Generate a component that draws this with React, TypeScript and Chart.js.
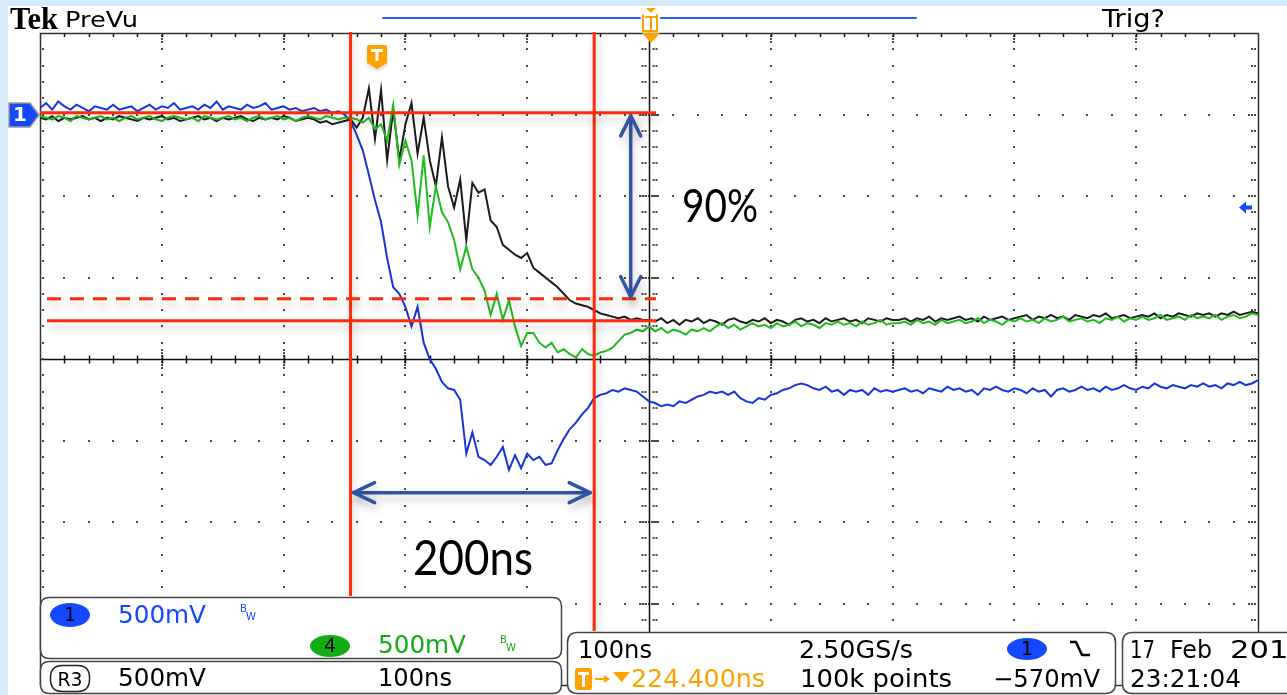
import React, { useEffect, useRef } from "react";
import { Chart, registerables } from "chart.js";

Chart.register(...registerables);

// Acquisition: 100 ns/div, 10 divisions, one sample read every 5 ns
const SAMPLE_START_NS = -500;
const SAMPLE_STEP_NS = 5;

// Channel 1 (mV, relative to ch1 ground marker)
const ch1Blue: number[] = [
  40, 70, 30, 80, 50, 30, 60, 40, 20, 50,
  40, 30, 60, 30, 40, 50, 20, 40, 60, 30,
  50, 40, 70, 30, 40, 50, 30, 60, 40, 80,
  30, 50, 40, 30, 60, 40, 50, 70, 30, 40,
  50, 30, 40, 20, 30, 40, 20, 30, 10, 20,
  0,
  -40, -125, -220, -370, -525, -660, -880, -1060, -1100, -1180,
  -1300, -1180, -1400, -1500, -1560, -1640, -1680, -1690, -1750, -2080,
  -1950, -2100, -2120, -2150, -2100, -2040, -2180, -2090, -2170, -2080,
  -2120, -2100, -2150, -2140, -2060, -1990, -1930, -1890, -1840, -1800,
  -1740, -1720, -1710, -1690, -1700, -1680, -1690, -1700, -1730, -1760,
  -1770, -1790, -1780, -1790, -1760, -1770, -1750, -1730, -1720, -1700,
  -1710, -1700, -1720, -1700, -1740, -1760, -1770, -1740, -1750, -1720,
  -1710, -1690, -1680, -1660, -1650, -1660, -1680, -1690, -1670, -1700,
  -1690, -1720, -1690, -1700, -1690, -1720, -1680, -1700, -1690, -1700,
  -1690, -1680, -1700, -1690, -1710, -1680, -1690, -1700, -1670, -1690,
  -1680, -1700, -1690, -1720, -1680, -1690, -1670, -1690, -1700, -1680,
  -1690, -1710, -1680, -1700, -1690, -1730, -1690, -1680, -1700, -1690,
  -1670, -1690, -1680, -1700, -1670, -1690, -1680, -1660, -1680, -1690,
  -1670, -1680, -1650, -1670, -1680, -1660, -1670, -1680, -1660, -1670,
  -1650, -1670, -1660, -1680, -1650, -1660, -1640, -1660, -1650, -1630,
];

// Channel 4 (mV)
const ch4Green: number[] = [
  -10, -20, -30, -10, -20, -40, -10, -20, -30, -20,
  -10, -30, -20, -40, -20, -10, -30, -20, -10, -30,
  -40, -20, -10, -20, -30, -20, -40, -10, -20, -30,
  -20, -10, -30, -20, -40, -20, -10, -30, -20, -10,
  -30, -20, -40, -20, -10, -20, -30, -10, -20, -30,
  -20,
  -20, -30, -50, -20, -90, -60, -160, 60, -310, -160,
  -280, -620, -250, -690, -440, -600, -660, -770, -950, -810,
  -950, -1000, -1080, -1230, -1100, -1260, -1140, -1300, -1420, -1340,
  -1340, -1400, -1430, -1400, -1460, -1440, -1470, -1490, -1440, -1470,
  -1480, -1460, -1450, -1430, -1390, -1350, -1340, -1320, -1330, -1300,
  -1330, -1310, -1340, -1320, -1330, -1350, -1320, -1330, -1310, -1330,
  -1300, -1280, -1310, -1290, -1320, -1300, -1280, -1300, -1290, -1310,
  -1280, -1300, -1290, -1270, -1300, -1280, -1290, -1310, -1280, -1290,
  -1270, -1290, -1280, -1300, -1270, -1290, -1280, -1260, -1290, -1280,
  -1280, -1270, -1290, -1260, -1280, -1270, -1290, -1260, -1280, -1270,
  -1260, -1280, -1270, -1250, -1280, -1260, -1270, -1290, -1260, -1270,
  -1250, -1270, -1260, -1280, -1250, -1270, -1260, -1240, -1270, -1260,
  -1250, -1270, -1260, -1280, -1250, -1260, -1240, -1270, -1250, -1260,
  -1240, -1260, -1250, -1230, -1260, -1250, -1240, -1260, -1230, -1250,
  -1240, -1250, -1230, -1260, -1240, -1230, -1250, -1240, -1220, -1230,
];

// Reference R3 (mV)
const ref3Black: number[] = [
  -20, -30, -10, -40, -20, -30, -20, -10, -30, -20,
  -40, -20, -30, -10, -20, -30, -40, -20, -30, -20,
  -10, -30, -20, -40, -30, -20, -10, -30, -20, -40,
  -20, -30, -20, -10, -30, -40, -20, -30, -20, -30,
  -10, -20, -40, -30, -20, -30, -50, -40, -60, -50,
  -40,
  -30, -80, -20, 160, -150, 150, -280, 30, -280, -60,
  70, -240, -20, -280, -440, -140, -440, -570, -400, -770,
  -420, -480, -460, -650, -690, -800, -830, -860, -880, -850,
  -940, -970, -1000, -1030, -1060, -1100, -1140, -1160, -1170, -1180,
  -1200, -1220, -1230, -1240, -1250, -1240, -1260, -1250, -1260, -1260,
  -1270, -1250, -1280, -1260, -1290, -1260, -1270, -1250, -1280, -1260,
  -1270, -1290, -1260, -1250, -1270, -1280, -1260, -1270, -1250, -1280,
  -1260, -1270, -1290, -1260, -1250, -1270, -1260, -1280, -1250, -1270,
  -1260, -1250, -1270, -1260, -1280, -1250, -1260, -1270, -1250, -1260,
  -1260, -1250, -1270, -1250, -1260, -1240, -1270, -1250, -1260, -1250,
  -1240, -1260, -1250, -1270, -1240, -1260, -1250, -1240, -1260, -1250,
  -1240, -1230, -1260, -1240, -1250, -1230, -1250, -1240, -1260, -1230,
  -1240, -1250, -1230, -1240, -1220, -1250, -1240, -1230, -1250, -1240,
  -1230, -1240, -1220, -1250, -1230, -1240, -1220, -1230, -1240, -1220,
  -1230, -1220, -1240, -1220, -1230, -1210, -1230, -1220, -1210, -1220,
];

const sampleTimes: number[] = ch1Blue.map((_, i) => SAMPLE_START_NS + i * SAMPLE_STEP_NS);

// Screen scales
const X_MIN = -500, X_MAX = 500, X_MAJOR = 100, X_MINOR = 20;
const Y_MIN = -3500, Y_MAX = 500, Y_MAJOR = 500, Y_MINOR = 100;
const X_CENTER = 0, Y_CENTER = -1500;

// Annotations (data units)
const CURSORS_NS = [-245, -45];
const LEVEL_100 = 10;
const LEVEL_0 = -1265;
const LEVEL_90 = -1130;
const SPAN_ARROW_MV = -2320;
const RISE_ARROW_NS = -15;
const TRIGGER_LEVEL_MV = -570;

const W = 1287, H = 695;
const RED = "#ff2a0a";
const ARROW_BLUE = "#3354a6";
const ORANGE = "#ffa200";
const SCOPE_BLUE = "#1448ff";
const SCOPE_GREEN = "#12ad12";
const UI_FONT = '"DejaVu Sans", "Liberation Sans", sans-serif';

type Ctx = CanvasRenderingContext2D;

function line(ctx: Ctx, x1: number, y1: number, x2: number, y2: number) {
  ctx.beginPath();
  ctx.moveTo(x1, y1);
  ctx.lineTo(x2, y2);
  ctx.stroke();
}

function rrect(ctx: Ctx, x: number, y: number, w: number, h: number, r: number) {
  ctx.beginPath();
  ctx.moveTo(x + r, y);
  ctx.lineTo(x + w - r, y);
  ctx.quadraticCurveTo(x + w, y, x + w, y + r);
  ctx.lineTo(x + w, y + h - r);
  ctx.quadraticCurveTo(x + w, y + h, x + w - r, y + h);
  ctx.lineTo(x + r, y + h);
  ctx.quadraticCurveTo(x, y + h, x, y + h - r);
  ctx.lineTo(x, y + r);
  ctx.quadraticCurveTo(x, y, x + r, y);
  ctx.closePath();
}

function txt(
  ctx: Ctx, s: string, x: number, y: number, size: number, color: string,
  width?: number, weight = "normal", family = UI_FONT, align: CanvasTextAlign = "left"
) {
  ctx.font = `${weight} ${size}px ${family}`;
  ctx.fillStyle = color;
  ctx.textBaseline = "alphabetic";
  ctx.textAlign = align;
  if (!width) {
    ctx.fillText(s, x, y);
    return;
  }
  const m = ctx.measureText(s).width;
  ctx.save();
  ctx.translate(x, y);
  ctx.scale(width / m, 1);
  ctx.fillText(s, 0, 0);
  ctx.restore();
}

function badge(ctx: Ctx, cx: number, cy: number, rx: number, ry: number, fill: string, label: string) {
  ctx.beginPath();
  ctx.ellipse(cx, cy, rx, ry, 0, 0, Math.PI * 2);
  ctx.fillStyle = fill;
  ctx.fill();
  ctx.font = `normal 19px ${UI_FONT}`;
  ctx.fillStyle = "#000";
  ctx.textAlign = "center";
  ctx.textBaseline = "middle";
  ctx.fillText(label, cx, cy + 1);
}

function doubleArrow(ctx: Ctx, x1: number, y1: number, x2: number, y2: number, len: number, spread: number) {
  line(ctx, x1, y1, x2, y2);
  const dx = x2 - x1, dy = y2 - y1;
  const d = Math.hypot(dx, dy);
  const ux = dx / d, uy = dy / d;
  const nx = -uy, ny = ux;
  const head = (tx: number, ty: number, sx: number) => {
    ctx.beginPath();
    ctx.moveTo(tx + sx * ux * len + nx * spread, ty + sx * uy * len + ny * spread);
    ctx.lineTo(tx, ty);
    ctx.lineTo(tx + sx * ux * len - nx * spread, ty + sx * uy * len - ny * spread);
    ctx.stroke();
  };
  head(x1, y1, 1);
  head(x2, y2, -1);
}

const backgroundPlugin = {
  id: "scopeBackground",
  beforeDraw(chart: any) {
    const ctx: Ctx = chart.ctx;
    ctx.save();
    ctx.fillStyle = "#ffffff";
    ctx.fillRect(0, 0, W, H);
    ctx.fillStyle = "#d6ebfa";
    ctx.fillRect(0, 0, 8, H);
    ctx.fillRect(0, 0, W, 6);
    ctx.restore();
  },
};

const graticulePlugin = {
  id: "graticule",
  beforeDatasetsDraw(chart: any) {
    const ctx: Ctx = chart.ctx;
    const a = chart.chartArea;
    const xs = chart.scales.x, ys = chart.scales.y;
    const px = (t: number) => Math.round(xs.getPixelForValue(t));
    const py = (v: number) => Math.round(ys.getPixelForValue(v));
    ctx.save();
    ctx.fillStyle = "#4a4a4a";
    const dot = (x: number, y: number) => ctx.fillRect(x - 1, y - 1, 2, 2);

    for (let t = X_MIN + X_MAJOR; t < X_MAX; t += X_MAJOR) {
      if (t === X_CENTER) continue;
      for (let v = Y_MIN + Y_MINOR; v < Y_MAX; v += Y_MINOR) dot(px(t), py(v));
      for (const k of [3, 6, 9]) {
        dot(px(t), a.top + k);
        dot(px(t), py(Y_CENTER) - k);
        dot(px(t), py(Y_CENTER) + k);
      }
    }
    for (let v = Y_MIN + Y_MAJOR; v < Y_MAX; v += Y_MAJOR) {
      if (v === Y_CENTER) continue;
      for (let t = X_MIN + X_MINOR; t < X_MAX; t += X_MINOR) dot(px(t), py(v));
      for (const k of [3, 6, 9]) {
        dot(a.right - k, py(v));
        dot(px(X_CENTER) - k, py(v));
        dot(px(X_CENTER) + k, py(v));
      }
    }

    ctx.strokeStyle = "#111";
    ctx.lineWidth = 1.5;
    const cx = px(X_CENTER) + 0.5, cy = py(Y_CENTER) + 0.5;
    line(ctx, a.left, cy, a.right, cy);
    line(ctx, cx, a.top, cx, a.bottom);
    for (let t = X_MIN + X_MINOR; t < X_MAX; t += X_MINOR) {
      line(ctx, px(t) + 0.5, cy - 4, px(t) + 0.5, cy + 4);
      line(ctx, px(t) + 0.5, a.top, px(t) + 0.5, a.top + 4);
    }
    for (let v = Y_MIN + Y_MINOR; v < Y_MAX; v += Y_MINOR) {
      for (const k of [-7, -4, 4, 7]) dot(cx + k, py(v));
      dot(a.right - 3, py(v));
      dot(a.right - 6, py(v));
      dot(a.left + 3, py(v));
    }

    ctx.strokeStyle = "#333";
    ctx.lineWidth = 1.5;
    ctx.strokeRect(a.left + 0.5, a.top + 0.5, a.right - a.left, a.bottom - a.top);
    ctx.restore();
  },
};

const overlayPlugin = {
  id: "scopeOverlay",
  afterDraw(chart: any) {
    const ctx: Ctx = chart.ctx;
    const xs = chart.scales.x, ys = chart.scales.y;
    const px = (t: number) => xs.getPixelForValue(t);
    const py = (v: number) => ys.getPixelForValue(v);
    ctx.save();

    // red cursors with soft drop shadow
    ctx.shadowColor = "rgba(0,0,0,0.22)";
    ctx.shadowBlur = 9;
    ctx.shadowOffsetX = 2;
    ctx.shadowOffsetY = 6;
    ctx.strokeStyle = RED;
    ctx.lineWidth = 3;
    const c1 = px(CURSORS_NS[0]), c2 = px(CURSORS_NS[1]);
    line(ctx, c1, 32, c1, 596);
    line(ctx, c2, 32, c2, 631);
    const right = 656;
    line(ctx, 40, py(LEVEL_100), right, py(LEVEL_100));
    line(ctx, 47, py(LEVEL_0), right, py(LEVEL_0));
    ctx.setLineDash([14, 9]);
    line(ctx, 47, py(LEVEL_90), right, py(LEVEL_90));
    ctx.setLineDash([]);

    // blue measurement arrows
    ctx.strokeStyle = ARROW_BLUE;
    ctx.lineWidth = 3.5;
    ctx.lineCap = "round";
    ctx.lineJoin = "round";
    const ax = px(RISE_ARROW_NS);
    doubleArrow(ctx, ax, py(LEVEL_100) + 3, ax, py(LEVEL_90) - 2, 20, 10);
    const ay = py(SPAN_ARROW_MV);
    doubleArrow(ctx, c1 + 3, ay, c2 - 4, ay, 21, 10);
    ctx.shadowColor = "rgba(0,0,0,0)";
    ctx.shadowBlur = 0;
    ctx.shadowOffsetX = 0;
    ctx.shadowOffsetY = 0;

    // annotation labels
    txt(ctx, "90%", 682, 222, 46, "#000", 76, "normal", "Lato, 'Open Sans', sans-serif");
    txt(ctx, "200ns", 413, 575, 48, "#000", 120, "normal", "Lato, 'Open Sans', sans-serif");

    // top status bar
    txt(ctx, "Tek", 10, 29, 32, "#000", 48, "bold", '"Liberation Serif", serif');
    txt(ctx, "PreVu", 65, 27, 21, "#000", 73);
    txt(ctx, "Trig?", 1102, 27, 24, "#000", 63);
    ctx.strokeStyle = "#2860f0";
    ctx.lineWidth = 2;
    line(ctx, 383, 18, 640, 18);
    line(ctx, 661, 18, 916, 18);
    ctx.fillStyle = ORANGE;
    ctx.beginPath();
    ctx.moveTo(646, 8); ctx.lineTo(656, 8); ctx.lineTo(651, 13); ctx.closePath(); ctx.fill();
    ctx.strokeStyle = ORANGE;
    ctx.lineWidth = 2;
    ctx.beginPath();
    ctx.moveTo(643, 15); ctx.lineTo(643, 31); ctx.lineTo(657, 31); ctx.lineTo(657, 15);
    ctx.stroke();
    line(ctx, 646, 17, 656, 17);
    line(ctx, 651, 17, 651, 29);
    ctx.beginPath();
    ctx.moveTo(642, 33); ctx.lineTo(660, 33); ctx.lineTo(651, 43); ctx.closePath(); ctx.fill();

    // trigger "T" marker above the left cursor
    ctx.shadowColor = "rgba(0,0,0,0.18)";
    ctx.shadowBlur = 4;
    ctx.shadowOffsetY = 2;
    ctx.fillStyle = ORANGE;
    ctx.beginPath();
    ctx.moveTo(369, 45); ctx.lineTo(385, 45);
    ctx.quadraticCurveTo(387, 45, 387, 47);
    ctx.lineTo(387, 63); ctx.lineTo(377, 69); ctx.lineTo(367, 63);
    ctx.lineTo(367, 47);
    ctx.quadraticCurveTo(367, 45, 369, 45);
    ctx.closePath();
    ctx.fill();
    ctx.shadowColor = "rgba(0,0,0,0)";
    ctx.shadowBlur = 0;
    ctx.shadowOffsetY = 0;
    ctx.fillStyle = "#fff";
    ctx.fillRect(371, 49, 12, 3);
    ctx.fillRect(375.5, 49, 3, 12);

    // channel 1 ground marker
    ctx.fillStyle = SCOPE_BLUE;
    ctx.strokeStyle = "#9a9a9a";
    ctx.lineWidth = 1.5;
    ctx.beginPath();
    ctx.moveTo(9, 103); ctx.lineTo(30, 103); ctx.lineTo(39, 115); ctx.lineTo(30, 127); ctx.lineTo(9, 127);
    ctx.closePath();
    ctx.fill();
    ctx.stroke();
    ctx.font = `bold 20px ${UI_FONT}`;
    ctx.fillStyle = "#fff";
    ctx.textAlign = "center";
    ctx.textBaseline = "middle";
    ctx.fillText("1", 20, 116);

    // trigger level marker on the right
    const ty = py(TRIGGER_LEVEL_MV);
    ctx.fillStyle = SCOPE_BLUE;
    ctx.beginPath();
    ctx.moveTo(1239, ty); ctx.lineTo(1246, ty - 6); ctx.lineTo(1246, ty - 2); ctx.lineTo(1252, ty - 2);
    ctx.lineTo(1252, ty + 2); ctx.lineTo(1246, ty + 2); ctx.lineTo(1246, ty + 6);
    ctx.closePath();
    ctx.fill();

    // bottom readout boxes
    ctx.lineWidth = 1.5;
    ctx.strokeStyle = "#444";
    const box = (x: number, y: number, w: number, h: number, r: number) => {
      rrect(ctx, x, y, w, h, r);
      ctx.fillStyle = "#fff";
      ctx.fill();
      ctx.stroke();
    };
    box(40.5, 597.5, 521, 61, 9);
    box(40.5, 661.5, 521, 32, 9);
    box(567.5, 632.5, 548, 61, 10);
    box(1122.5, 632.5, 200, 61, 10);

    badge(ctx, 70, 615, 20, 12, SCOPE_BLUE, "1");
    txt(ctx, "500mV", 118, 623, 24, SCOPE_BLUE, 88);
    txt(ctx, "B", 240, 612, 10, SCOPE_BLUE);
    txt(ctx, "W", 246, 620, 10, SCOPE_BLUE);
    badge(ctx, 330, 646, 20, 11, SCOPE_GREEN, "4");
    txt(ctx, "500mV", 378, 653, 24, SCOPE_GREEN, 88);
    txt(ctx, "B", 500, 643, 10, SCOPE_GREEN);
    txt(ctx, "W", 506, 651, 10, SCOPE_GREEN);

    ctx.strokeStyle = "#222";
    ctx.lineWidth = 1.5;
    rrect(ctx, 50.5, 665.5, 39, 26, 12);
    ctx.stroke();
    txt(ctx, "R3", 70, 686, 20, "#000", 25, "normal", UI_FONT, "center");
    txt(ctx, "500mV", 118, 686, 24, "#000", 88);
    txt(ctx, "100ns", 378, 686, 24, "#000", 74);

    txt(ctx, "100ns", 578, 658, 24, "#000", 74);
    txt(ctx, "2.50GS/s", 799, 658, 24, "#000", 114);
    txt(ctx, "100k points", 800, 687, 24, "#000", 152);
    txt(ctx, "\u2212570mV", 993, 687, 24, "#000", 107);
    badge(ctx, 1027, 649, 20, 11, SCOPE_BLUE, "1");
    ctx.strokeStyle = "#000";
    ctx.lineWidth = 2.5;
    ctx.lineCap = "butt";
    ctx.beginPath();
    ctx.moveTo(1070, 642); ctx.lineTo(1076, 642); ctx.lineTo(1082, 655); ctx.lineTo(1090, 655);
    ctx.stroke();

    ctx.fillStyle = ORANGE;
    rrect(ctx, 575, 668, 17, 22, 3);
    ctx.fill();
    ctx.fillStyle = "#fff";
    ctx.fillRect(578, 672, 11, 3);
    ctx.fillRect(582, 672, 3, 15);
    ctx.strokeStyle = ORANGE;
    ctx.lineWidth = 2;
    line(ctx, 595, 679, 608, 679);
    ctx.fillStyle = ORANGE;
    ctx.beginPath();
    ctx.moveTo(604, 675); ctx.lineTo(610, 679); ctx.lineTo(604, 683); ctx.closePath(); ctx.fill();
    ctx.beginPath();
    ctx.moveTo(613, 672); ctx.lineTo(630, 672); ctx.lineTo(621.5, 682); ctx.closePath(); ctx.fill();
    txt(ctx, "224.400ns", 631, 687, 24, ORANGE, 134);

    txt(ctx, "17", 1130, 658, 24, "#000", 25);
    txt(ctx, "Feb", 1170, 658, 24, "#000", 42);
    txt(ctx, "2012", 1230, 658, 24, "#000", 78);
    txt(ctx, "23:21:04", 1130, 687, 24, "#000", 111);

    ctx.restore();
  },
};

export default function App() {
  const canvasRef = useRef<HTMLCanvasElement | null>(null);

  useEffect(() => {
    const canvas = canvasRef.current;
    if (!canvas) return;
    const mk = (values: number[]) => values.map((v, i) => ({ x: sampleTimes[i], y: v }));
    const trace = (label: string, values: number[], color: string) => ({
      label,
      data: mk(values),
      borderColor: color,
      borderWidth: 2,
      pointRadius: 0,
      tension: 0,
    });
    const chart = new Chart(canvas, {
      type: "line",
      data: {
        datasets: [
          trace("Ch4", ch4Green, "#1fbb1f"),
          trace("R3", ref3Black, "#1b1b1b"),
          trace("Ch1", ch1Blue, "#1636dc"),
        ],
      },
      options: {
        animation: false,
        responsive: false,
        maintainAspectRatio: false,
        devicePixelRatio: 1,
        events: [],
        layout: { padding: { left: 40, top: 33, right: W - 1258, bottom: H - 685 } },
        plugins: { legend: { display: false }, tooltip: { enabled: false } },
        scales: {
          x: { type: "linear", min: X_MIN, max: X_MAX, display: false },
          y: { type: "linear", min: Y_MIN, max: Y_MAX, display: false },
        },
      },
      plugins: [backgroundPlugin, graticulePlugin, overlayPlugin],
    } as any);
    return () => chart.destroy();
  }, []);

  return (
    <div style={{ position: "fixed", left: 0, top: 0, width: W, height: H, background: "#fff" }}>
      <canvas ref={canvasRef} width={W} height={H} style={{ display: "block", width: W, height: H }} />
    </div>
  );
}
